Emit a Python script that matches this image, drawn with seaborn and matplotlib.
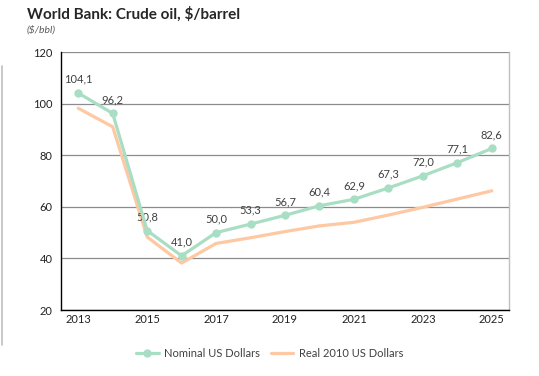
import numpy as np
import pandas as pd
import seaborn as sns
import matplotlib.pyplot as plt
from matplotlib.lines import Line2D

years = list(range(2013, 2026))
nominal = [104.1, 96.2, 50.8, 41.0, 50.0, 53.3, 56.7, 60.4, 62.9, 67.3, 72.0, 77.1, 82.6]
real = [98.2, 91.0, 48.3, 38.2, 45.8, 48.0, 50.4, 52.6, 54.0, 56.8, 59.8, 63.0, 66.2]

green = "#a8dec3"
peach = "#fdc8a2"

df = pd.DataFrame({"year": years, "nominal": nominal, "real": real})

sns.set_style("white")
plt.rcParams["font.family"] = ["Lato", "DejaVu Sans"]

fig = plt.figure(figsize=(5.39, 3.76), dpi=100)
ax = fig.add_axes([0.1132, 0.1755, 0.8311, 0.6862])

sns.lineplot(data=df, x="year", y="real", ax=ax, color=peach, lw=2.3,
             label="Real 2010 US Dollars", zorder=3)
sns.lineplot(data=df, x="year", y="nominal", ax=ax, color=green, lw=2.3,
             marker="o", markersize=6, markeredgewidth=0,
             label="Nominal US Dollars", zorder=4)

# data labels on the nominal series
for x, v in zip(years, nominal):
    ax.annotate(f"{v:.1f}".replace(".", ","), (x, v), xytext=(0, 6),
                textcoords="offset points", ha="center", va="bottom",
                fontsize=8, color="#404040")

ax.set_xlim(2012.5, 2025.5)
ax.set_ylim(20, 120)
ax.set_yticks(range(20, 121, 20))
ax.yaxis.grid(True, color="#8c8c8c", lw=0.9)
ax.set_axisbelow(True)

# ticks between categories, labels on every other year
ax.set_xticks(np.arange(2012.5, 2026, 1))
ax.set_xticklabels([])
ax.set_xticks(years[::2], minor=True)
ax.set_xticklabels([str(y) for y in years[::2]], minor=True)
ax.tick_params(axis="x", which="major", direction="out", length=4, width=0.9, color="black")
ax.tick_params(axis="x", which="minor", length=0, pad=3, labelsize=8, labelcolor="#222222")
ax.tick_params(axis="y", length=0, labelsize=8, labelcolor="#222222", pad=6)
ax.set_xlabel("")
ax.set_ylabel("")

for s in ["left", "bottom"]:
    ax.spines[s].set_color("black")
    ax.spines[s].set_linewidth(1.0)
ax.spines["top"].set_visible(False)
ax.spines["right"].set_color("#bfbfbf")
ax.spines["right"].set_linewidth(1.0)

h, l = ax.get_legend_handles_labels()
ax.legend(h[::-1], l[::-1], loc="center", bbox_to_anchor=(0.466, -0.167),
          ncol=2, frameon=False, fontsize=8, handlelength=2.0, columnspacing=1.0,
          handletextpad=0.5, labelcolor="#404040")

fig.text(0.05, 0.963, "World Bank: Crude oil, $/barrel", fontsize=11,
         fontweight="bold", color="#262626", va="center")
fig.text(0.05, 0.92, "($/bbl)", fontsize=7.5, style="italic", color="#595959", va="center")

fig.add_artist(Line2D([0.003, 0.003], [1 - 345 / 376, 1 - 66 / 376],
                      transform=fig.transFigure, color="#c0c0c0", lw=1.2))

fig.savefig("out.png", dpi=100)
